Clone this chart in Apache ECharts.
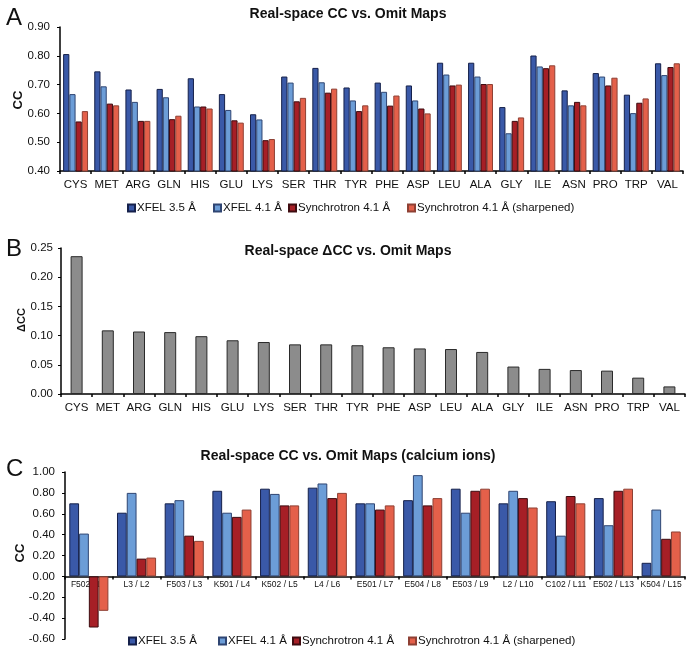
<!DOCTYPE html>
<html><head><meta charset="utf-8">
<script src="https://cdn.jsdelivr.net/npm/echarts@6/dist/echarts.min.js"></script>
<style>html,body{margin:0;padding:0;background:#fff}#c{width:687px;height:648px}</style>
</head><body><div id="c"></div>
<script>
const residues = ['CYS','MET','ARG','GLN','HIS','GLU','LYS','SER','THR','TYR','PHE','ASP','LEU','ALA','GLY','ILE','ASN','PRO','TRP','VAL'];
const seriesNames = ['XFEL 3.5 Å','XFEL 4.1 Å','Synchrotron 4.1 Å','Synchrotron 4.1 Å (sharpened)'];
const xfel35A = [0.806,0.746,0.683,0.685,0.722,0.667,0.597,0.728,0.758,0.690,0.707,0.697,0.776,0.776,0.622,0.801,0.680,0.740,0.665,0.774];
const xfel41A = [0.667,0.694,0.640,0.656,0.624,0.612,0.579,0.707,0.708,0.645,0.675,0.645,0.735,0.728,0.531,0.763,0.628,0.728,0.601,0.733];
const sync41A = [0.572,0.634,0.574,0.580,0.624,0.576,0.507,0.642,0.672,0.608,0.627,0.617,0.697,0.702,0.574,0.757,0.640,0.697,0.637,0.761];
const sharpA  = [0.608,0.628,0.574,0.592,0.617,0.568,0.511,0.654,0.686,0.628,0.662,0.600,0.700,0.702,0.586,0.767,0.628,0.724,0.652,0.774];
const deltaB  = [0.236,0.109,0.107,0.106,0.099,0.092,0.089,0.085,0.085,0.0835,0.080,0.078,0.077,0.072,0.047,0.043,0.041,0.040,0.028,0.013];
const ionSites = ['F502 / L1','L3 / L2','F503 / L3','K501 / L4','K502 / L5','L4 / L6','E501 / L7','E504 / L8','E503 / L9','L2 / L10','C102 / L11','E502 / L13','K504 / L15'];
const xfel35C = [0.70,0.61,0.70,0.82,0.84,0.85,0.70,0.73,0.84,0.70,0.72,0.75,0.13];
const xfel41C = [0.41,0.80,0.73,0.61,0.79,0.89,0.70,0.97,0.61,0.82,0.39,0.49,0.64];
const sync41C = [-0.49,0.17,0.39,0.57,0.68,0.75,0.64,0.68,0.82,0.75,0.77,0.82,0.36];
const sharpC  = [-0.33,0.18,0.34,0.64,0.68,0.80,0.68,0.75,0.84,0.66,0.70,0.84,0.43];

const colors = ['#3a59a8','#6c9dd7','#a61f26','#e4604a'];
const borders = ['#15204a','#2f4572','#3e0c10','#8e4034'];
const FONT = '"Liberation Sans", Arial, sans-serif';

const chart = echarts.init(document.getElementById('c'));

function barSeries(name, i, data, axisIdx, gap) {
  return {
    type: 'bar', name: name, data: data,
    xAxisIndex: axisIdx, yAxisIndex: axisIdx,
    barGap: '0%', barCategoryGap: gap,
    itemStyle: { color: colors[i], borderColor: borders[i], borderWidth: 1 },
    emphasis: { disabled: true }, animation: false
  };
}

function legendItems(lefts, top) {
  return seriesNames.map((n, i) => ({
    data: [n], left: lefts[i], top: top, orient: 'horizontal', padding: 0,
    icon: 'rect', itemWidth: 7, itemHeight: 7, itemGap: 0,
    selectedMode: false,
    textStyle: { fontFamily: FONT, fontSize: 11.5, color: '#111', padding: [0,0,0,-3] }
  }));
}

function axisName(text, x, y, size) {
  return { type: 'text', x: x, y: y, rotation: Math.PI / 2, silent: true,
    style: { text: text, align: 'center', verticalAlign: 'middle', fill: '#111',
      font: 'bold ' + size + 'px "Liberation Sans", Arial, sans-serif' } };
}

const axisLineStyle = { lineStyle: { color: '#000', width: 1.5 } };
const xTick = { show: true, length: 3, lineStyle: { color: '#000', width: 1.5 } };
const yTick = { show: true, length: 3, lineStyle: { color: '#000', width: 1 } };
const titleStyle = { fontFamily: FONT, fontSize: 14, fontWeight: 'bold', color: '#111' };
const letterStyle = { fontFamily: FONT, fontSize: 24, fontWeight: 'normal', color: '#111' };

const option = {
  animation: false,
  textStyle: { fontFamily: FONT },
  title: [
    { text: 'A', left: 1, top: 1, textStyle: letterStyle },
    { text: 'Real-space CC vs. Omit Maps', left: 343, top: 2, textAlign: 'center', textStyle: titleStyle },
    { text: 'B', left: 1, top: 232, textStyle: letterStyle },
    { text: 'Real-space ΔCC vs. Omit Maps', left: 343, top: 239, textAlign: 'center', textStyle: titleStyle },
    { text: 'C', left: 1, top: 452, textStyle: letterStyle },
    { text: 'Real-space CC vs. Omit Maps (calcium ions)', left: 343, top: 444, textAlign: 'center', textStyle: titleStyle }
  ],
  graphic: [
    axisName('CC', 18, 100, 13),
    axisName('ΔCC', 22, 320, 11),
    axisName('CC', 20, 553, 13)
  ],
  legend: legendItems([127, 213, 288, 407], 202).concat(legendItems([128, 218, 292, 408], 635)),
  grid: [
    { left: 60, top: 27, width: 623, height: 144 },
    { left: 61, top: 248, width: 624, height: 146 },
    { left: 65, top: 472, width: 620, height: 167 }
  ],
  xAxis: [
    { type: 'category', gridIndex: 0, data: residues, axisLine: axisLineStyle, axisTick: xTick,
      axisLabel: { fontFamily: FONT, fontSize: 11.5, color: '#111', margin: 8, interval: 0 } },
    { type: 'category', gridIndex: 1, data: residues, axisLine: axisLineStyle, axisTick: xTick,
      axisLabel: { fontFamily: FONT, fontSize: 11.5, color: '#111', margin: 8, interval: 0 } },
    { type: 'category', gridIndex: 2, data: ionSites, axisLine: { onZero: true, lineStyle: { color: '#000', width: 1.5 } }, axisTick: xTick,
      axisLabel: { fontFamily: FONT, fontSize: 8.5, color: '#111', margin: -59, interval: 0 } }
  ],
  yAxis: [
    { type: 'value', gridIndex: 0, min: 0.4, max: 0.9, interval: 0.1,
      axisLine: { show: true, lineStyle: { color: '#000', width: 1.5 } }, axisTick: yTick, splitLine: { show: false },
      axisLabel: { fontFamily: FONT, fontSize: 11.5, color: '#111', margin: 10, formatter: v => v.toFixed(2) } },
    { type: 'value', gridIndex: 1, min: 0, max: 0.25, interval: 0.05,
      axisLine: { show: true, lineStyle: { color: '#000', width: 1.5 } }, axisTick: yTick, splitLine: { show: false },
      axisLabel: { fontFamily: FONT, fontSize: 11.5, color: '#111', margin: 8, formatter: v => v.toFixed(2) } },
    { type: 'value', gridIndex: 2, min: -0.6, max: 1.0, interval: 0.2,
      axisLine: { show: true, onZero: false, lineStyle: { color: '#000', width: 1.5 } }, axisTick: yTick, splitLine: { show: false },
      axisLabel: { fontFamily: FONT, fontSize: 11.5, color: '#111', margin: 10, formatter: v => (Math.abs(v) < 1e-9 ? 0 : v).toFixed(2) } }
  ],
  series: [
    barSeries(seriesNames[0], 0, xfel35A, 0, '20%'),
    barSeries(seriesNames[1], 1, xfel41A, 0, '20%'),
    barSeries(seriesNames[2], 2, sync41A, 0, '20%'),
    barSeries(seriesNames[3], 3, sharpA, 0, '20%'),
    { type: 'bar', name: 'ΔCC', data: deltaB, xAxisIndex: 1, yAxisIndex: 1, barWidth: 12,
      itemStyle: { color: '#8c8c8c', borderColor: '#2a2a2a', borderWidth: 1 }, emphasis: { disabled: true } },
    barSeries(seriesNames[0], 0, xfel35C, 2, '18%'),
    barSeries(seriesNames[1], 1, xfel41C, 2, '18%'),
    barSeries(seriesNames[2], 2, sync41C, 2, '18%'),
    barSeries(seriesNames[3], 3, sharpC, 2, '18%')
  ]
};
chart.setOption(option);
</script></body></html>
